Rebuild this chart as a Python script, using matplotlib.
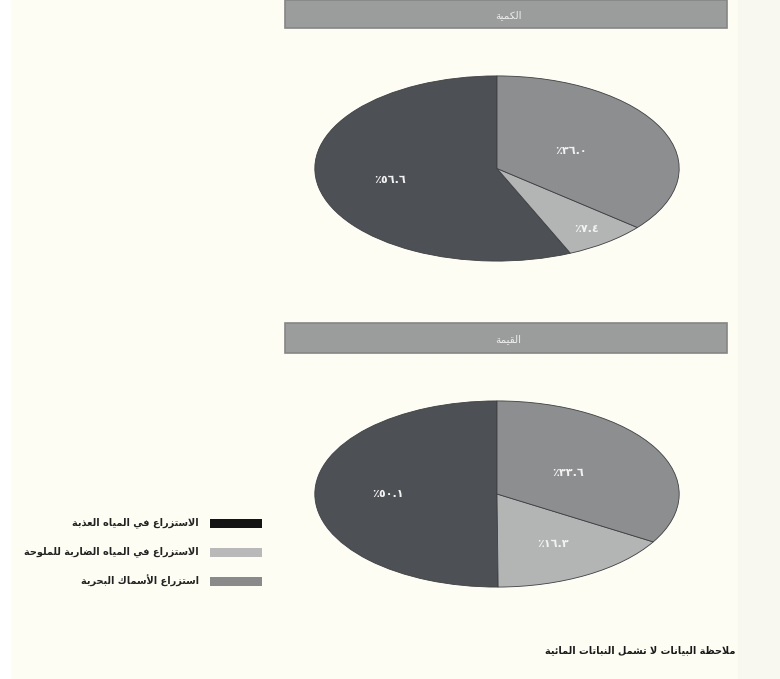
import matplotlib
matplotlib.use('Agg')
import matplotlib.pyplot as plt
from matplotlib.patches import Rectangle
import numpy as np

# --- data ---
categories = ['الاستزراع في المياه العذبة',
              'الاستزراع في المياه الضاربة للملوحة',
              'استزراع الأسماك البحرية']
quantity = [56.6, 7.4, 36.0]   # الكمية
value = [50.1, 16.3, 33.6]     # القيمة
panel_titles = ['الكمية', 'القيمة']
note = 'ملاحظة البيانات لا تشمل النباتات المائية'

pie_colors = ['#4d5155', '#b3b5b5', '#8c8e90']
legend_colors = ['#141414', '#b9b9b9', '#8a8a8a']
bg = '#fdfdf3'


# minimal arabic shaping (no bidi lib available)
FORMS = {
    'ا': ('\uFE8D', '\uFE8E', None, None), 'أ': ('\uFE83', '\uFE84', None, None),
    'إ': ('\uFE87', '\uFE88', None, None), 'آ': ('\uFE81', '\uFE82', None, None),
    'ئ': ('\uFE89', '\uFE8A', '\uFE8B', '\uFE8C'),
    'ب': ('\uFE8F', '\uFE90', '\uFE91', '\uFE92'), 'ة': ('\uFE93', '\uFE94', None, None),
    'ت': ('\uFE95', '\uFE96', '\uFE97', '\uFE98'), 'ث': ('\uFE99', '\uFE9A', '\uFE9B', '\uFE9C'),
    'ج': ('\uFE9D', '\uFE9E', '\uFE9F', '\uFEA0'), 'ح': ('\uFEA1', '\uFEA2', '\uFEA3', '\uFEA4'),
    'خ': ('\uFEA5', '\uFEA6', '\uFEA7', '\uFEA8'), 'د': ('\uFEA9', '\uFEAA', None, None),
    'ذ': ('\uFEAB', '\uFEAC', None, None), 'ر': ('\uFEAD', '\uFEAE', None, None),
    'ز': ('\uFEAF', '\uFEB0', None, None), 'س': ('\uFEB1', '\uFEB2', '\uFEB3', '\uFEB4'),
    'ش': ('\uFEB5', '\uFEB6', '\uFEB7', '\uFEB8'), 'ص': ('\uFEB9', '\uFEBA', '\uFEBB', '\uFEBC'),
    'ض': ('\uFEBD', '\uFEBE', '\uFEBF', '\uFEC0'), 'ط': ('\uFEC1', '\uFEC2', '\uFEC3', '\uFEC4'),
    'ظ': ('\uFEC5', '\uFEC6', '\uFEC7', '\uFEC8'), 'ع': ('\uFEC9', '\uFECA', '\uFECB', '\uFECC'),
    'غ': ('\uFECD', '\uFECE', '\uFECF', '\uFED0'), 'ف': ('\uFED1', '\uFED2', '\uFED3', '\uFED4'),
    'ق': ('\uFED5', '\uFED6', '\uFED7', '\uFED8'), 'ك': ('\uFED9', '\uFEDA', '\uFEDB', '\uFEDC'),
    'ل': ('\uFEDD', '\uFEDE', '\uFEDF', '\uFEE0'), 'م': ('\uFEE1', '\uFEE2', '\uFEE3', '\uFEE4'),
    'ن': ('\uFEE5', '\uFEE6', '\uFEE7', '\uFEE8'), 'ه': ('\uFEE9', '\uFEEA', '\uFEEB', '\uFEEC'),
    'و': ('\uFEED', '\uFEEE', None, None), 'ى': ('\uFEEF', '\uFEF0', None, None),
    'ي': ('\uFEF1', '\uFEF2', '\uFEF3', '\uFEF4'),
}
LAMALEF = {'ا': ('\uFEFB', '\uFEFC'), 'أ': ('\uFEF7', '\uFEF8'),
           'إ': ('\uFEF9', '\uFEFA'), 'آ': ('\uFEF5', '\uFEF6')}


def shape(text):
    # merge lam-alef first
    chars = []
    i = 0
    while i < len(text):
        c = text[i]
        if c == 'ل' and i + 1 < len(text) and text[i + 1] in LAMALEF:
            chars.append(('LA', text[i + 1]))
            i += 2
        else:
            chars.append(c)
            i += 1

    def joins_next(c):  # can connect to following letter
        if isinstance(c, tuple):
            return False
        return c in FORMS and FORMS[c][2] is not None

    def is_letter(c):
        return isinstance(c, tuple) or c in FORMS

    out = []
    for k, c in enumerate(chars):
        prev = chars[k - 1] if k > 0 else None
        nxt = chars[k + 1] if k + 1 < len(chars) else None
        from_prev = prev is not None and joins_next(prev)
        to_next = nxt is not None and is_letter(nxt) and joins_next(c)
        if isinstance(c, tuple):
            iso, fin = LAMALEF[c[1]]
            out.append(fin if from_prev else iso)
        elif c in FORMS:
            iso, fin, ini, med = FORMS[c]
            if from_prev and to_next:
                out.append(med)
            elif from_prev:
                out.append(fin)
            elif to_next:
                out.append(ini)
            else:
                out.append(iso)
        else:
            out.append(c)
    return ''.join(out)[::-1]


def ar_pct(v):
    digits = '٠١٢٣٤٥٦٧٨٩'
    s = f'{v:.1f}'
    s = ''.join(digits[int(ch)] if ch.isdigit() else ch for ch in s)
    return '٪' + s


plt.rcParams['font.family'] = ['DejaVu Sans']

W, H = 780, 679
fig = plt.figure(figsize=(W / 100, H / 100), dpi=100, facecolor=bg)

# background axes for bands / legend / note (pixel coords)
bgax = fig.add_axes([0, 0, 1, 1])
bgax.set_xlim(0, W)
bgax.set_ylim(H, 0)
bgax.axis('off')
bgax.add_patch(Rectangle((0, 0), 10, H, color='white', zorder=0))
bgax.add_patch(Rectangle((738, 0), W - 738, H, color='#f8f8f1', zorder=0))

# title bands
for (y0, y1), t in zip([(0, 28), (323, 353)], panel_titles):
    bgax.add_patch(Rectangle((285, y0), 442, y1 - y0, facecolor='#9b9d9c',
                             edgecolor='#858786', lw=1.2))
    bgax.text(508, (y0 + y1) / 2 + 1, shape(t), color='#eeeeee', fontsize=7.5,
              ha='center', va='center')

# pies (label distance from centre, per wedge: dark, light, medium)
label_dist = [[0.6, 0.82, 0.45], [0.6, 0.62, 0.45]]
pie_boxes = [(313, 75, 681, 262), (313, 400, 681, 588)]
for data, box, dists in zip([quantity, value], pie_boxes, label_dist):
    x0, y0, x1, y1 = box
    ax = fig.add_axes([x0 / W, 1 - y1 / H, (x1 - x0) / W, (y1 - y0) / H])
    wedges, _ = ax.pie(data, colors=pie_colors, startangle=90, counterclock=True,
                       wedgeprops=dict(edgecolor='#3d3f42', linewidth=0.6))
    ax.set_aspect('auto')
    ax.set_xlim(-1.01, 1.01)
    ax.set_ylim(-1.01, 1.01)
    ax.axis('off')
    for w, v, d in zip(wedges, data, dists):
        ang = np.deg2rad((w.theta1 + w.theta2) / 2)
        ax.text(d * np.cos(ang), d * np.sin(ang), ar_pct(v), color='#f2f2f2',
                fontsize=8, fontweight='bold', ha='center', va='center')

# legend
for i, (cat, col) in enumerate(zip(categories, legend_colors)):
    y = 523 + i * 29
    bgax.add_patch(Rectangle((210, y - 4.5), 52, 9, facecolor=col, edgecolor='none'))
    bgax.text(199, y, shape(cat), fontsize=7, ha='right', va='center',
              color='#222222', fontweight='bold')

# footnote
bgax.text(735, 650, shape(note), fontsize=7, ha='right', va='center',
          color='#1a1a1a', fontweight='bold')

fig.savefig('out.png', dpi=100, facecolor=bg)
